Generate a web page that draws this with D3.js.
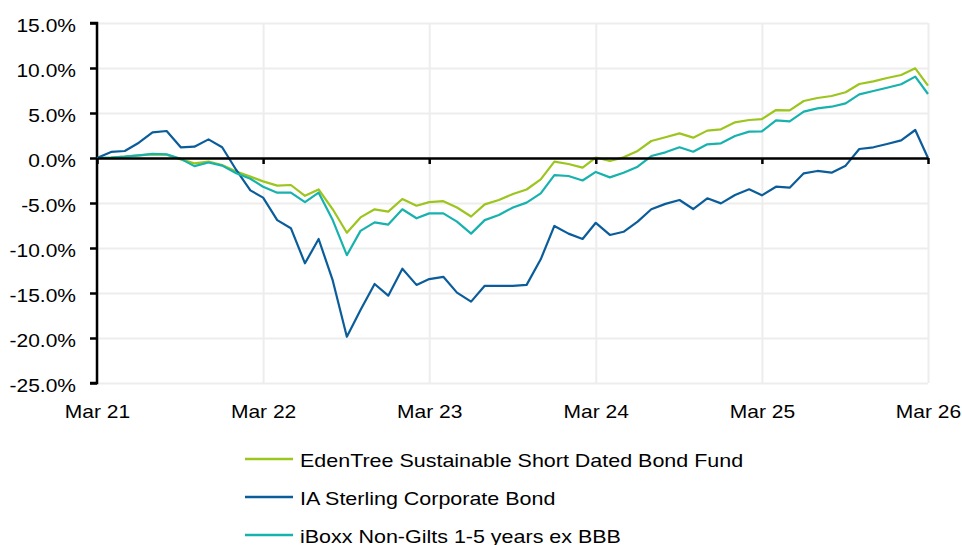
<!DOCTYPE html>
<html>
<head>
<meta charset="utf-8">
<script src="https://d3js.org/d3.v7.min.js"></script>
<style>
  body { margin: 0; background: #fff; font-family: "Liberation Sans", Arial, sans-serif; }
  .grid line { stroke: #ededed; stroke-width: 2; }
  .grid path { display: none; }
</style>
</head>
<body>
<div id="chart"></div>
<script>
// monthly points, Mar 21 .. Mar 26
var months = d3.timeMonth.range(new Date(2021, 2, 1), new Date(2026, 3, 1));
var yTicks = [15, 10, 5, 0, -5, -10, -15, -20, -25];
var xTickLabels = ["Mar 21", "Mar 22", "Mar 23", "Mar 24", "Mar 25", "Mar 26"];
var seriesNames = ["EdenTree Sustainable Short Dated Bond Fund", "IA Sterling Corporate Bond", "iBoxx Non-Gilts 1-5 years ex BBB"];
var seriesColors = ["#9cc51d", "#0a5d9a", "#17b2ad"];

var edenTree = [0, 0.04, 0.15, 0.3, 0.4, 0.37, -0.15, -0.6, -0.4, -0.78, -1.5, -2.07,
  -2.6, -3.07, -3.0, -4.2, -3.5, -5.7, -8.3, -6.6, -5.7, -5.96, -4.55, -5.3,
  -4.9, -4.8, -5.5, -6.5, -5.15, -4.67, -4.0, -3.5, -2.37, -0.4, -0.67, -1.07,
  0.05, -0.33, 0.07, 0.78, 1.89, 2.3, 2.74, 2.26, 3.04, 3.19, 3.96, 4.22,
  4.33, 5.33, 5.3, 6.33, 6.67, 6.89, 7.3, 8.22, 8.52, 8.89, 9.22, 9.96, 8.04];
var iaSterling = [0, 0.67, 0.78, 1.7, 2.85, 3.0, 1.19, 1.26, 2.07, 1.19, -1.33, -3.6,
  -4.4, -6.9, -7.8, -11.7, -9.0, -13.6, -19.85, -16.9, -14.0, -15.3, -12.3, -14.1,
  -13.45, -13.2, -14.96, -15.96, -14.2, -14.2, -14.2, -14.1, -11.26, -7.55, -8.4, -9.0,
  -7.2, -8.55, -8.2, -7.07, -5.7, -5.1, -4.67, -5.67, -4.48, -5.04, -4.11, -3.48,
  -4.15, -3.19, -3.3, -1.7, -1.44, -1.63, -0.85, 1.0, 1.19, 1.56, 1.96, 3.11, 0];
var iBoxx = [0, 0.04, 0.15, 0.3, 0.45, 0.4, -0.1, -0.9, -0.5, -0.85, -1.7, -2.3,
  -3.2, -3.85, -3.85, -4.9, -3.85, -6.9, -10.8, -8.1, -7.15, -7.4, -5.7, -6.7,
  -6.15, -6.15, -7.07, -8.4, -6.9, -6.33, -5.5, -4.96, -3.93, -1.9, -2.0, -2.5,
  -1.55, -2.15, -1.63, -0.96, 0.22, 0.63, 1.19, 0.7, 1.52, 1.63, 2.44, 2.93,
  2.96, 4.19, 4.07, 5.15, 5.52, 5.7, 6.07, 7.07, 7.44, 7.81, 8.19, 9.04, 7.11];

var seriesValues = [edenTree, iaSterling, iBoxx];

var W = 962, H = 545;
var margin = {top: 23, right: 34, bottom: 162, left: 97},
    width = W - margin.left - margin.right,
    height = H - margin.top - margin.bottom;

// the original text is a little stretched sideways
var fontSize = "18.6px", stretch = 1.13, legendStretch = 1.155;

var svg = d3.select("#chart").append("svg")
    .attr("width", W)
    .attr("height", H)
  .append("g")
    .attr("transform", "translate(" + margin.left + "," + margin.top + ")");

var x = d3.scaleTime()
    .domain([months[0], months[months.length - 1]])
    .range([0, width]);

var y = d3.scaleLinear()
    .domain([-25, 15])
    .range([height, 0]);

var yearTicks = months.filter(function(d, i) { return i % 12 === 0; });

// horizontal gridlines
svg.append("g")
    .attr("class", "grid")
    .call(d3.axisLeft(y).tickValues(yTicks).tickSize(-width).tickFormat(""));

// vertical gridlines
svg.append("g")
    .attr("class", "grid")
    .call(d3.axisBottom(x).tickValues(yearTicks).tickSize(height).tickFormat(""));

// y axis
var yAxis = svg.append("g")
    .call(d3.axisLeft(y).tickValues(yTicks).tickSize(7)
      .tickFormat(function(d) { return d.toFixed(1) + "%"; }));
yAxis.select(".domain").attr("stroke", "#000").attr("stroke-width", 2.5)
    .attr("d", "M-7," + y(15) + "H0V" + y(-25) + "H-7");
yAxis.selectAll(".tick line").attr("stroke", "#000").attr("stroke-width", 2.5);
yAxis.selectAll("text")
    .attr("x", -21 / stretch)
    .attr("y", 2.5)
    .attr("transform", "scale(" + stretch + ",1)")
    .style("font-family", "'Liberation Sans', Arial, sans-serif")
    .style("font-size", fontSize)
    .attr("fill", "#000");

// x labels at bottom
svg.append("g")
    .attr("transform", "translate(0," + height + ")")
    .call(d3.axisBottom(x).tickValues(yearTicks).tickSize(0)
      .tickFormat(function(d, i) { return xTickLabels[i]; }))
    .call(function(g) { g.select(".domain").remove(); })
    .selectAll("text")
    .attr("y", 35)
    .attr("dy", 0)
    .attr("transform", "scale(" + stretch + ",1)")
    .style("font-family", "'Liberation Sans', Arial, sans-serif")
    .style("font-size", fontSize)
    .attr("fill", "#000");

// lines
var line = d3.line()
    .x(function(d, i) { return x(months[i]); })
    .y(function(d) { return y(d); });

seriesValues.forEach(function(vals, k) {
  svg.append("path")
      .datum(vals)
      .attr("fill", "none")
      .attr("stroke", seriesColors[k])
      .attr("stroke-width", 2.2)
      .attr("stroke-linejoin", "round")
      .attr("d", line);
});

// zero line with ticks
var zeroAxis = svg.append("g")
    .attr("transform", "translate(0," + y(0) + ")")
    .call(d3.axisBottom(x).tickValues(yearTicks).tickSize(6).tickSizeOuter(0).tickFormat(""));
zeroAxis.select(".domain").attr("stroke", "#000").attr("stroke-width", 2.5);
zeroAxis.selectAll(".tick line").attr("stroke", "#000").attr("stroke-width", 2.5);

// legend
var legend = svg.append("g")
    .attr("transform", "translate(" + (245 - margin.left) + "," + (459 - margin.top) + ")");
seriesNames.forEach(function(name, k) {
  var g = legend.append("g").attr("transform", "translate(0," + (k * 38) + ")");
  g.append("line")
      .attr("x1", 0).attr("x2", 48)
      .attr("y1", 0).attr("y2", 0)
      .attr("stroke", seriesColors[k])
      .attr("stroke-width", 2.5);
  g.append("text")
      .attr("transform", "translate(55,0) scale(" + legendStretch + ",1)")
      .attr("y", 7.5)
      .style("font-family", "'Liberation Sans', Arial, sans-serif")
      .style("font-size", fontSize)
      .attr("fill", "#000")
      .text(name);
});
</script>
</body>
</html>
